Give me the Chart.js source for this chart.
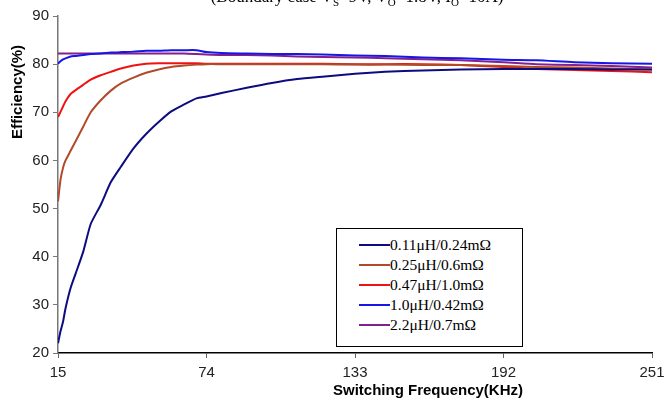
<!DOCTYPE html>
<html>
<head>
<meta charset="utf-8">
<script src="https://cdn.jsdelivr.net/npm/chart.js@4/dist/chart.umd.min.js"></script>
<style>
  body { margin: 0; background: #fff; }
  #wrap { position: relative; width: 664px; height: 400px; overflow: hidden; }
  #title {
    position: absolute; left: 0; width: 714px; top: -13px; text-align: center;
    font: 17px "Liberation Serif", "Times New Roman", serif; color: #000;
  }
  #title sub { font-size: 11px; }
  #legend {
    position: absolute; left: 336px; top: 228px; width: 187px; height: 119px;
    border: 1px solid #000; background: #fff; box-sizing: border-box;
    font: 15.5px "Liberation Serif", "Times New Roman", serif; color: #000;
    padding-top: 6px;
  }
  .item { height: 20px; line-height: 20px; display: flex; align-items: center; }
  .item span.ln { display: inline-block; width: 31px; height: 2px; margin-left: 22px; }
</style>
</head>
<body>
<div id="wrap">
  <canvas id="effChart" width="664" height="400"></canvas>
  <div id="title">(Boundary case V<sub>S</sub>=9V, V<sub>O</sub>=1.8V, I<sub>O</sub>=10A)</div>
  <div id="legend"></div>
</div>
<script>
// switching frequency (KHz) sample points
const freq = [15, 16, 17, 18, 20, 22, 25, 28, 32, 36, 40, 45, 50, 55, 60, 65, 70, 74,
  80, 90, 100, 110, 120, 133, 145, 160, 175, 192, 205, 220, 235, 251];

const xTicks = [15, 74, 133, 192, 251];

const labels = ["0.11\u03bcH/0.24m\u03a9", "0.25\u03bcH/0.6m\u03a9", "0.47\u03bcH/1.0m\u03a9",
  "1.0\u03bcH/0.42m\u03a9", "2.2\u03bcH/0.7m\u03a9"];
const colors = ["#0c0c80", "#b04a2a", "#ee1212", "#1616e6", "#84208c"];

const eff011 = [22.0, 24.5, 26.5, 29.3, 33.5, 36.5, 41.0, 46.8, 50.8, 55.5, 58.7, 62.5, 65.5, 68.0, 70.2, 71.6, 72.9, 73.3,
  74.0, 75.1, 76.1, 76.9, 77.4, 78.0, 78.4, 78.7, 78.9, 79.0, 79.0, 79.0, 78.9, 78.9];
const eff025 = [51.5, 56.0, 58.5, 60.0, 62.0, 64.0, 67.0, 70.0, 72.5, 74.5, 76.0, 77.2, 78.2, 78.9, 79.4, 79.7, 79.9, 80.0,
  80.0, 80.0, 80.0, 80.0, 80.0, 79.9, 79.9, 79.8, 79.8, 79.6, 79.4, 79.3, 79.1, 78.9];
const eff047 = [69.0, 70.1, 71.2, 72.3, 73.8, 74.6, 75.7, 76.8, 77.7, 78.4, 79.1, 79.7, 80.1, 80.2, 80.2, 80.2, 80.2, 80.1,
  80.1, 80.1, 80.1, 80.1, 80.1, 80.0, 80.0, 80.0, 79.8, 79.4, 79.0, 78.8, 78.6, 78.3];
const eff10 = [80.1, 80.6, 81.0, 81.2, 81.6, 81.7, 81.9, 82.1, 82.2, 82.4, 82.5, 82.6, 82.8, 82.8, 82.9, 82.9, 82.9, 82.5,
  82.3, 82.2, 82.1, 82.1, 82.0, 81.8, 81.7, 81.4, 81.2, 80.9, 80.8, 80.4, 80.2, 80.1];
const eff22 = [82.2, 82.2, 82.2, 82.2, 82.2, 82.2, 82.2, 82.2, 82.2, 82.2, 82.2, 82.2, 82.2, 82.2, 82.2, 82.2, 82.1, 82.0,
  81.9, 81.9, 81.8, 81.6, 81.5, 81.4, 81.2, 81.0, 80.8, 80.4, 80.0, 79.8, 79.6, 79.3];

const series = [eff011, eff025, eff047, eff10, eff22];

// html legend box
const legendEl = document.getElementById("legend");
labels.forEach((l, i) => {
  const row = document.createElement("div");
  row.className = "item";
  row.innerHTML = '<span class="ln" style="background:' + colors[i] + '"></span>' + l;
  legendEl.appendChild(row);
});

// axis titles drawn off-centre like the original
const axisTitles = {
  id: "axisTitles",
  afterDraw(chart) {
    const c = chart.ctx;
    c.save();
    c.fillStyle = "#000";
    c.font = "bold 15px 'Liberation Sans', Arial, sans-serif";
    c.textAlign = "center";
    c.textBaseline = "middle";
    c.fillText("Switching Frequency(KHz)", 428, 391);
    c.translate(18, 92);
    c.rotate(-Math.PI / 2);
    c.fillText("Efficiency(%)", 0, 0);
    c.restore();
  }
};

new Chart(document.getElementById("effChart"), {
  type: "line",
  data: {
    datasets: series.map((s, i) => ({
      label: labels[i],
      data: freq.map((f, j) => ({ x: f, y: s[j] })),
      borderColor: colors[i],
      backgroundColor: colors[i],
      borderWidth: 2,
      pointRadius: 0,
      tension: 0.2,
      fill: false
    }))
  },
  options: {
    responsive: false,
    animation: false,
    layout: { padding: { top: 16, right: 0, left: 0, bottom: 0 } },
    plugins: {
      legend: { display: false },
      tooltip: { enabled: false }
    },
    scales: {
      x: {
        type: "linear",
        min: 15,
        max: 251,
        afterBuildTicks: (scale) => { scale.ticks = xTicks.map((v) => ({ value: v })); },
        afterFit: (scale) => {
          scale.height = 47;
          scale.paddingRight = 12;
          scale.paddingLeft = 0;
        },
        ticks: {
          color: "#222",
          font: { family: "'Liberation Sans', Arial, sans-serif", size: 15 },
          padding: 6,
          maxRotation: 0
        },
        grid: { drawOnChartArea: false, color: "#666", tickLength: 5 },
        border: { color: "#000", width: 1.5 }
      },
      y: {
        min: 20,
        max: 90,
        afterFit: (scale) => { scale.width = 58; },
        ticks: {
          stepSize: 10,
          color: "#222",
          font: { family: "'Liberation Sans', Arial, sans-serif", size: 15 },
          padding: 4
        },
        grid: { drawOnChartArea: false, color: "#777", tickLength: 5 },
        border: { color: "#777", width: 1.5 }
      }
    }
  },
  plugins: [axisTitles]
});
</script>
</body>
</html>
